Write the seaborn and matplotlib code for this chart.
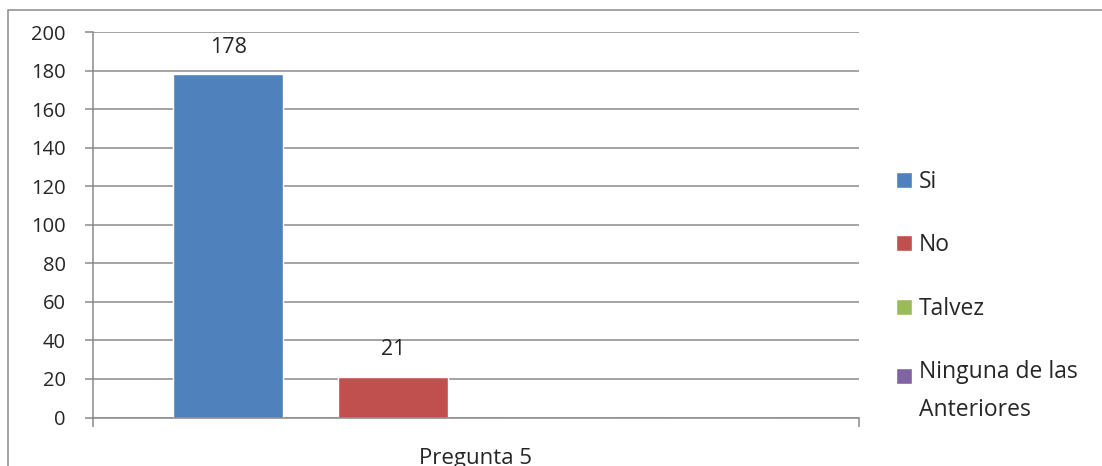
import pandas as pd
import matplotlib
matplotlib.use("Agg")
import matplotlib.pyplot as plt
from matplotlib.patches import Rectangle
from matplotlib.legend_handler import HandlerPatch
import seaborn as sns

categories = ["Pregunta 5"]
series = ["Si", "No", "Talvez", "Ninguna de las\nAnteriores"]
values = [178, 21, 0, 0]
colors = ["#4F81BD", "#C0504D", "#9BBB59", "#8064A2"]
yticks = [0, 20, 40, 60, 80, 100, 120, 140, 160, 180, 200]

df = pd.DataFrame({
    "Pregunta": categories * len(series),
    "Respuesta": series,
    "Cantidad": values,
})

sns.set_style("white")
plt.rcParams["font.family"] = ["Open Sans", "DejaVu Sans"]
FS = 14.5
FS_LAB = 15.5
FS_CAT = 16
FS_LEG = 16.5
GRAY = "#8a8a8a"

fig = plt.figure(figsize=(11.02, 4.66), dpi=100)
ax = fig.add_axes([93 / 1102, 1 - 417.5 / 466, (859 - 93) / 1102, (417.5 - 32) / 466])

sns.barplot(data=df, x="Pregunta", y="Cantidad", hue="Respuesta",
            hue_order=series, palette=colors, width=0.863, gap=0.334,
            saturation=1, ax=ax)

ax.set_xlim(-0.5, 0.5)
ax.set_ylim(0, 200)
ax.set_yticks(yticks)
ax.set_xlabel("")
ax.set_ylabel("")
ax.set_axisbelow(True)
ax.yaxis.grid(True, color=GRAY, linewidth=1.1)
ax.xaxis.grid(False)
for s in ["top", "right"]:
    ax.spines[s].set_visible(False)
for s in ["left", "bottom"]:
    ax.spines[s].set_color(GRAY)
    ax.spines[s].set_linewidth(1.1)

ax.tick_params(axis="y", which="major", length=5.8, width=1.1, color=GRAY,
               pad=14, labelsize=FS, left=True)
ax.set_xticks([-0.5, 0.5])
ax.set_xticklabels(["", ""])
ax.set_xticks([0], minor=True)
ax.set_xticklabels(categories, minor=True)
ax.tick_params(axis="x", which="major", length=6.5, width=1.1, color=GRAY,
               bottom=True, direction="out")
ax.tick_params(axis="x", which="minor", length=0, pad=22, labelsize=FS_CAT)

for c in ax.containers:
    labels = [f"{v:g}" if v else "" for v in c.datavalues]
    ax.bar_label(c, labels=labels, padding=12, fontsize=FS_LAB)

old = ax.get_legend()
handles = old.legend_handles
labels = [t.get_text() for t in old.get_texts()]
old.remove()

LS = 11.5  # shift in points for the two-line label's handle


def top_line_patch(legend, orig_handle, xdescent, ydescent, width, height, fontsize):
    return Rectangle((-xdescent, -ydescent + LS), width, height)


leg = fig.legend(handles, labels, loc="upper left",
                 bbox_to_anchor=(896 / 1102, 1 - 170 / 466),
                 frameon=False, fontsize=FS_LEG, borderpad=0, borderaxespad=0,
                 handlelength=0.7, handleheight=0.7, handletextpad=0.3,
                 labelspacing=1.72,
                 handler_map={handles[3]: HandlerPatch(patch_func=top_line_patch)})
for t in leg.get_texts():
    t.set_linespacing(1.75)

fig.patches.append(Rectangle((7.5 / 1102, -0.2), 1.2, 1.2 - 10 / 466,
                             transform=fig.transFigure, fill=False,
                             edgecolor=GRAY, linewidth=1.1))

fig.savefig("out.png", dpi=100)
